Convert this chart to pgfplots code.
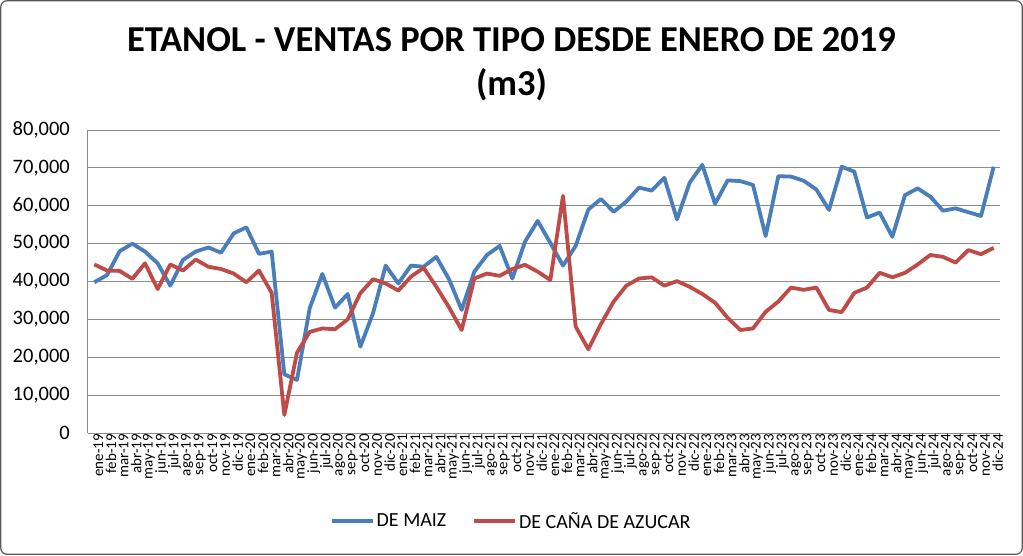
\documentclass[border=0pt]{standalone}
\usepackage{fontspec}
\setmainfont{Carlito}
\usepackage{pgfplots}
\usepackage{pgfplotstable}
\pgfplotsset{compat=1.18}

\definecolor{maiz}{HTML}{4A7EBB}
\definecolor{cana}{HTML}{BE4B48}
\definecolor{gridgray}{HTML}{8C8C8C}
\definecolor{frame}{HTML}{595959}

% idx maiz cana (m3)
\pgfplotstableread{
idx maiz cana
0 39800 44500
1 41700 42900
2 48000 42800
3 50000 40700
4 47900 44800
5 44800 38000
6 38900 44500
7 45700 42900
8 47900 45800
9 49000 43900
10 47600 43300
11 52700 42100
12 54300 39800
13 47300 42900
14 47900 37000
15 15500 4750
16 14000 21200
17 32900 26700
18 42000 27600
19 33100 27400
20 36700 30000
21 22800 36900
22 31600 40600
23 44200 39500
24 39500 37600
25 44200 41300
26 43900 43600
27 46500 38600
28 40600 33200
29 32500 27200
30 42600 40800
31 47000 42100
32 49400 41500
33 40800 43300
34 50500 44400
35 56000 42600
36 50200 40400
37 44200 62600
38 49400 28100
39 59000 22100
40 61800 28800
41 58400 34700
42 61100 38900
43 64800 40800
44 64000 41100
45 67400 38900
46 56400 40100
47 66100 38600
48 70800 36700
49 60500 34400
50 66700 30400
51 66500 27200
52 65500 27600
53 52000 32000
54 67800 34700
55 67700 38400
56 66600 37800
57 64300 38400
58 58900 32500
59 70300 31900
60 69000 37000
61 56900 38400
62 58200 42300
63 51800 41100
64 62800 42300
65 64600 44500
66 62400 47000
67 58700 46500
68 59300 45000
69 58300 48300
70 57300 47200
71 70300 48900
}\ventas

\begin{document}
\begin{tikzpicture}[x=1pt,y=1pt]
\useasboundingbox (0,0) rectangle (1023,555);
\draw[frame, line width=1.2pt, rounded corners=6pt] (0.8,0.8) rectangle (1022.2,554.2);
\node[font=\bfseries\fontsize{36.5}{42}\selectfont] at (511.5,515) {ETANOL - VENTAS POR TIPO DESDE ENERO DE 2019};
\node[font=\bfseries\fontsize{36.5}{42}\selectfont] at (511.5,470) {(m3)};
\begin{axis}[
    at={(88pt,122pt)}, anchor=south west,
    width=912pt, height=303pt, scale only axis,
    xmin=-0.5, xmax=71.5, ymin=0, ymax=80000,
    axis x line*=bottom, axis y line*=left,
    axis line style={gridgray, line width=1pt, -},
    scaled y ticks=false,
    ytick={0,10000,...,80000},
    yticklabels={0,{10,000},{20,000},{30,000},{40,000},{50,000},{60,000},{70,000},{80,000}},
    ymajorgrids, grid style={gridgray, line width=0.9pt},
    major tick length=0pt,
    yticklabel style={font=\fontsize{20.5}{20.5}\selectfont, anchor=east, inner sep=0pt, xshift=-18pt},
    xtick={0,...,71},
    xticklabels={ene-19,feb-19,mar-19,abr-19,may-19,jun-19,jul-19,ago-19,sep-19,oct-19,nov-19,dic-19,
      ene-20,feb-20,mar-20,abr-20,may-20,jun-20,jul-20,ago-20,sep-20,oct-20,nov-20,dic-20,
      ene-21,feb-21,mar-21,abr-21,may-21,jun-21,jul-21,ago-21,sep-21,oct-21,nov-21,dic-21,
      ene-22,feb-22,mar-22,abr-22,may-22,jun-22,jul-22,ago-22,sep-22,oct-22,nov-22,dic-22,
      ene-23,feb-23,mar-23,abr-23,may-23,jun-23,jul-23,ago-23,sep-23,oct-23,nov-23,dic-23,
      ene-24,feb-24,mar-24,abr-24,may-24,jun-24,jul-24,ago-24,sep-24,oct-24,nov-24,dic-24},
    xticklabel style={font=\fontsize{15}{15}\selectfont, rotate=90, anchor=east, inner sep=1pt, yshift=-4pt},
    legend style={at={(0.464,-0.29)}, anchor=center, draw=none, fill=none,
      legend columns=-1, font=\fontsize{20}{20}\selectfont,
      /tikz/every even column/.append style={column sep=24pt}},
    legend image code/.code={\draw[#1] (0pt,0pt) -- (41pt,0pt);},
    every axis plot/.append style={line width=3.8pt, line join=round},
  ]
\addplot[maiz, no marks] table[x=idx, y=maiz] {\ventas};
\addplot[cana, no marks] table[x=idx, y=cana] {\ventas};
\legend{DE MAIZ, DE CAÑA DE AZUCAR}
\end{axis}
\end{tikzpicture}
\end{document}
